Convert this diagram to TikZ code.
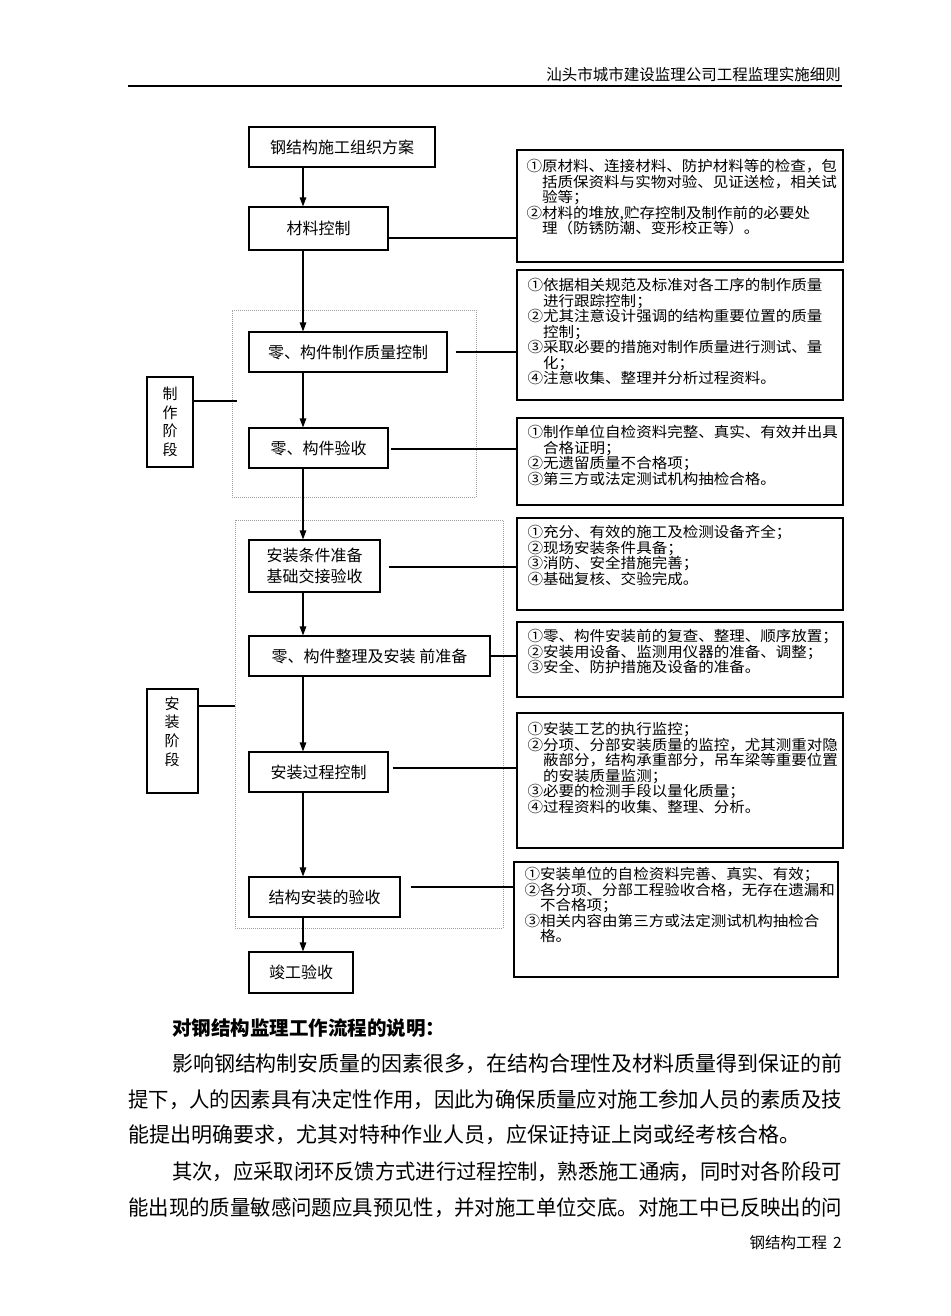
\documentclass[tikz,border=0pt]{standalone}
\usepackage{fontspec}
\usepackage{graphicx}
\setmainfont{Noto Sans CJK SC}
\newfontfamily\cjkwide[FakeStretch=1.07]{Noto Sans CJK SC}
\usetikzlibrary{arrows.meta}
\newcommand\rfnt{\cjkwide\fontsize{14.5}{15.5}\selectfont\lineskiplimit-100pt\relax}
\begin{document}
\begin{tikzpicture}[x=1pt,y=-1pt,
  box/.style={draw, line width=1.1pt, inner sep=0pt, align=center, font=\fontsize{16}{21}\selectfont},
  rbox/.style={draw, line width=1.1pt, inner sep=0pt, minimum width=326pt},
  rtext/.style={anchor=north west, inner sep=0pt, align=left, font=\rfnt},
  link/.style={line width=1.1pt},
  arr/.style={line width=1.1pt, -{Triangle[length=9pt,width=6.5pt]}},
  zone/.style={draw=gray!75, line width=0.8pt, dash pattern=on 1pt off 1pt, inner sep=0pt},
  side/.style={draw, line width=1.1pt, inner sep=0pt, align=center, font=\fontsize{15}{18.7}\selectfont},
  body/.style={anchor=west, inner sep=0pt, font=\fontsize{21}{21}\selectfont},
]
\useasboundingbox (0,0) rectangle (950,1316);
\fill[white] (0,0) rectangle (950,1316);

% header
\node[anchor=east, inner sep=0pt, font=\fontsize{15.5}{15.5}\selectfont] (hdr) at (841,75) {汕头市城市建设监理公司工程监理实施细则};
\coordinate (hl) at (128,86);
\coordinate (hr) at (842,86);
\draw[line width=1.5pt] (hl) -- (hr);

% zones
\node[zone, minimum width=244pt, minimum height=187pt] (z1) at (354,403.5) {};
\node[zone, minimum width=268pt, minimum height=408pt] (z2) at (369,724) {};

% main boxes
\node[box, minimum width=186pt, minimum height=40pt] (b1) at (342,147) {钢结构施工组织方案};
\node[box, minimum width=139pt, minimum height=43pt] (b2) at (318.5,228.5) {材料控制};
\node[box, minimum width=198pt, minimum height=40pt] (b3) at (348,352) {零、构件制作质量控制};
\node[box, minimum width=139pt, minimum height=40pt] (b4) at (318.5,448) {零、构件验收};
\node[box, minimum width=131pt, minimum height=52pt] (b5) at (314.5,566) {安装条件准备\\基础交接验收};
\node[box, minimum width=241pt, minimum height=40pt] (b6) at (369.5,656) {零、构件整理及安装 前准备};
\node[box, minimum width=139pt, minimum height=40pt] (b7) at (318.5,772) {安装过程控制};
\node[box, minimum width=151pt, minimum height=40pt] (b8) at (324.5,897) {结构安装的验收};
\node[box, minimum width=104pt, minimum height=41pt] (b9) at (301,972.5) {竣工验收};

% side boxes
\node[side, minimum width=46pt, minimum height=90pt] (s1) at (170,422) {制\\作\\阶\\段};
\node[side, minimum width=51pt, minimum height=104pt] (s2) at (172.5,741) {};
\node[side, draw=none] (s2t) at (172,731.5) {安\\装\\阶\\段};

% right boxes
\node[rbox, minimum height=112pt] (r1) at (680,206) {};
\node[rbox, minimum height=130pt] (r2) at (680,335) {};
\node[rbox, minimum height=87pt] (r3) at (680,461.5) {};
\node[rbox, minimum height=92pt] (r4) at (680,564) {};
\node[rbox, minimum height=75pt] (r5) at (680,659.5) {};
\node[rbox, minimum height=135pt] (r6) at (680,780.5) {};
\node[rbox, minimum width=324pt, minimum height=115pt] (r7) at (676,919.5) {};

\node[rtext] (t1) at ([xshift=10pt,yshift=-10pt]r1.north west) {①原材料、连接材料、防护材料等的检查，包\\\phantom{①}括质保资料与实物对验、见证送检，相关试\\\phantom{①}验等；\\②材料的堆放,贮存控制及制作前的必要处\\\phantom{①}理（防锈防潮、变形校正等）。};
\node[rtext] (t2) at ([xshift=11pt,yshift=-9pt]r2.north west) {①依据相关规范及标准对各工序的制作质量\\\phantom{①}进行跟踪控制；\\②尤其注意设计强调的结构重要位置的质量\\\phantom{①}控制；\\③采取必要的措施对制作质量进行测试、量\\\phantom{①}化；\\④注意收集、整理并分析过程资料。};
\node[rtext] (t3) at ([xshift=11pt,yshift=-8pt]r3.north west) {①制作单位自检资料完整、真实、有效并出具\\\phantom{①}合格证明；\\②无遗留质量不合格项；\\③第三方或法定测试机构抽检合格。};
\node[rtext] (t4) at ([xshift=11pt,yshift=-8pt]r4.north west) {①充分、有效的施工及检测设备齐全；\\②现场安装条件具备；\\③消防、安全措施完善；\\④基础复核、交验完成。};
\node[rtext] (t5) at ([xshift=11pt,yshift=-8pt]r5.north west) {①零、构件安装前的复查、整理、顺序放置；\\②安装用设备、监测用仪器的准备、调整；\\③安全、防护措施及设备的准备。};
\node[rtext] (t6) at ([xshift=11pt,yshift=-10pt]r6.north west) {①安装工艺的执行监控；\\②分项、分部安装质量的监控，尤其测重对隐\\\phantom{①}蔽部分，结构承重部分，吊车梁等重要位置\\\phantom{①}的安装质量监测；\\③必要的检测手段以量化质量；\\④过程资料的收集、整理、分析。};
\node[rtext] (t7) at ([xshift=11pt,yshift=-6pt]r7.north west) {①安装单位的自检资料完善、真实、有效；\\②各分项、分部工程验收合格，无存在遗漏和\\\phantom{①}不合格项；\\③相关内容由第三方或法定测试机构抽检合\\\phantom{①}格。};

% vertical arrows
\coordinate (vx) at (303,0);
\draw[arr] (b1.south -| vx) -- (b2.north -| vx);
\draw[arr] (b2.south -| vx) -- (b3.north -| vx);
\draw[arr] (b3.south -| vx) -- (b4.north -| vx);
\draw[arr] (b4.south -| vx) -- (b5.north -| vx);
\draw[arr] (b5.south -| vx) -- (b6.north -| vx);
\draw[arr] (b6.south -| vx) -- (b7.north -| vx);
\draw[arr] (b7.south -| vx) -- (b8.north -| vx);
\draw[arr] (b8.south -| vx) -- (b9.north -| vx);

% horizontal links
\draw[link] ([yshift=-9.5pt]b2.east) -- ([yshift=-9.5pt]b2.east -| r1.west);
\draw[link] ([xshift=8pt]b3.east) -- (b3.east -| r2.west);
\draw[link] ([xshift=2pt,yshift=-1pt]b4.east) -- ([yshift=-1pt]b4.east -| r3.west);
\draw[link] ([xshift=8pt,yshift=-1pt]b5.east) -- ([yshift=-1pt]b5.east -| r4.west);
\draw[link] (b6.east) -- (b6.east -| r5.west);
\draw[link] ([xshift=4pt,yshift=4pt]b7.east) -- ([yshift=4pt]b7.east -| r6.west);
\draw[link] ([xshift=10pt,yshift=10pt]b8.east) -- ([yshift=10pt]b8.east -| r7.west);
\draw[link] ([yshift=21pt]s1.east) -- ([yshift=21pt,xshift=5pt]s1.east -| z1.west);
\draw[link] ([yshift=35pt]s2.east) -- ([yshift=35pt]s2.east -| z2.west);

% text below
\node[anchor=west, inner sep=0pt, font=\fontsize{19.5}{19.5}\selectfont\bfseries] (hd) at (172,1028) {对钢结构监理工作流程的说明：};
\node[body] (p1) at (172,1064) {\resizebox{670pt}{\height}{影响钢结构制安质量的因素很多，在结构合理性及材料质量得到保证的前}};
\node[body] (p2) at (128,1100) {\resizebox{714pt}{\height}{提下，人的因素具有决定性作用，因此为确保质量应对施工参加人员的素质及技}};
\node[body] (p3) at (128,1135) {能提出明确要求，尤其对特种作业人员，应保证持证上岗或经考核合格。};
\node[body] (p4) at (172,1172) {\resizebox{670pt}{\height}{其次，应采取闭环反馈方式进行过程控制，熟悉施工通病，同时对各阶段可}};
\node[body] (p5) at (128,1208) {\resizebox{714pt}{\height}{能出现的质量敏感问题应具预见性，并对施工单位交底。对施工中已反映出的问}};
\node[anchor=east, inner sep=0pt, font=\fontsize{15.5}{15.5}\selectfont] (ft) at (842,1243) {钢结构工程\hspace{6pt}2};
\end{tikzpicture}
\end{document}
